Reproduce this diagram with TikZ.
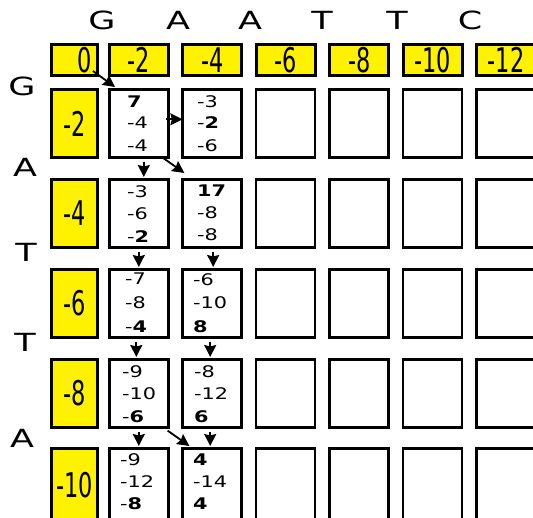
\documentclass[tikz,border=0pt]{standalone}
\usepackage{fontspec}
\setmainfont{DejaVu Sans}
\usetikzlibrary{calc,arrows.meta}
\newcommand{\hdr}[1]{\scalebox{0.66}[1]{\fontsize{34}{40}\selectfont #1}}
\newcommand{\sq}[1]{\scalebox{1.4}[1]{\fontsize{25}{28}\selectfont #1}}
\newcommand{\cv}[1]{\scalebox{1.3}[1]{\fontsize{16}{19}\selectfont #1}}
\begin{document}
\begin{tikzpicture}[x=1pt,y=-1pt,
  ybox/.style={draw, line width=3pt, fill=yellow, inner sep=0pt, anchor=north west},
  cellbox/.style={draw, line width=2.6pt, fill=white, inner sep=0pt, anchor=north west, minimum width=59pt},
  valtxt/.style={anchor=base west, inner sep=0pt},
  arr/.style={-{Stealth[length=12pt,width=12pt,inset=1.5pt]}, line width=1.8pt},
  lett/.style={anchor=base, inner sep=0pt}]
\useasboundingbox (0,0) rectangle (533,517);
\clip (0,0) rectangle (533,517);

% sequence letters
\node[lett] (tG)  at (102,29) {\sq{G}};
\node[lett] (tA1) at (178,29) {\sq{A}};
\node[lett] (tA2) at (250,29) {\sq{A}};
\node[lett] (tT1) at (322,29) {\sq{T}};
\node[lett] (tT2) at (397,29) {\sq{T}};
\node[lett] (tC)  at (470,29) {\sq{C}};
\node[lett] (sG)  at (22,95)  {\sq{G}};
\node[lett] (sA1) at (25,176) {\sq{A}};
\node[lett] (sT1) at (26,261) {\sq{T}};
\node[lett] (sT2) at (25,351) {\sq{T}};
\node[lett] (sA2) at (22,447) {\sq{A}};

% header row
\node[ybox, minimum width=46pt, minimum height=31pt] (h0) at (50,43) {\hspace{20pt}\hdr{0}};
\foreach \c/\l/\v in {1/108/-2,2/181.4/-4,3/254.8/-6,4/328.2/-8,5/401.6/-10,6/475/-12}
  \node[ybox, minimum width=59pt, minimum height=31pt] (h\c) at (\l,43) {\hdr{\v}};

% left column and cells
\foreach \r/\t/\h/\v in {1/88/68/-2,2/178/68/-4,3/268/68/-6,4/358/68/-8,5/447/74/-10}{
  \node[ybox, minimum width=46pt, minimum height=\h pt] (l\r) at (50,\t) {\hdr{\v}};
  \foreach \c/\l in {1/108,2/181.4,3/254.8,4/328.2,5/401.6,6/475}
    \node[cellbox, minimum height=\h pt] (c\r\c) at (\l,\t) {};
}

% cell values
\node[valtxt] (v111) at (127,107.5) {\cv{\textbf{7}}};
\node[valtxt] (v112) at (127,128.5) {\cv{-4}};
\node[valtxt] (v113) at (127,151)   {\cv{-4}};
\node[valtxt] (v121) at (197,107.5) {\cv{-3}};
\node[valtxt] (v122) at (197,128.5) {\cv{-\textbf{2}}};
\node[valtxt] (v123) at (197,151)   {\cv{-6}};

\node[valtxt] (v211) at (127,197.5) {\cv{-3}};
\node[valtxt] (v212) at (127,219.5) {\cv{-6}};
\node[valtxt] (v213) at (127,242)   {\cv{-\textbf{2}}};
\node[valtxt] (v221) at (197,196.5) {\cv{\textbf{17}}};
\node[valtxt] (v222) at (197,218.5) {\cv{-8}};
\node[valtxt] (v223) at (197,240.5) {\cv{-8}};

\node[valtxt] (v311) at (125,284) {\cv{-7}};
\node[valtxt] (v312) at (125,308) {\cv{-8}};
\node[valtxt] (v313) at (125,332) {\cv{-\textbf{4}}};
\node[valtxt] (v321) at (193,285) {\cv{-6}};
\node[valtxt] (v322) at (193,308) {\cv{-10}};
\node[valtxt] (v323) at (193,332) {\cv{\textbf{8}}};

\node[valtxt] (v411) at (122,377.5) {\cv{-9}};
\node[valtxt] (v412) at (122,399.5) {\cv{-10}};
\node[valtxt] (v413) at (122,422.5) {\cv{-\textbf{6}}};
\node[valtxt] (v421) at (194,377)   {\cv{-8}};
\node[valtxt] (v422) at (194,399)   {\cv{-12}};
\node[valtxt] (v423) at (194,422)   {\cv{\textbf{6}}};

\node[valtxt] (v511) at (120,465.5) {\cv{-9}};
\node[valtxt] (v512) at (120,487.5) {\cv{-12}};
\node[valtxt] (v513) at (120,509.5) {\cv{-\textbf{8}}};
\node[valtxt] (v521) at (193,465.5) {\cv{\textbf{4}}};
\node[valtxt] (v522) at (193,487)   {\cv{-14}};
\node[valtxt] (v523) at (193,509)   {\cv{\textbf{4}}};

% arrows
\draw[arr] ($(h0.south east)+(-6,-6)$) -- ($(c11.north west)+(7,-1)$);
\draw[arr] ($(c11.east)+(-4,-4)$) -- ($(c12.west)+(1,-4)$);
\draw[arr] ($(c11.south)+(5,3)$) -- ($(c21.north)+(5,-1)$);
\draw[arr] ($(c11.south east)+(-7,-1)$) -- ($(c22.north west)+(3,-5)$);
\draw[arr] ($(c21.south)+(0,3)$) -- ($(c31.north)+(0,-1)$);
\draw[arr] ($(c22.south)+(1,3)$) -- ($(c32.north)+(1,-1)$);
\draw[arr] ($(c31.south)+(-2.5,3)$) -- ($(c41.north)+(-2.5,-1)$);
\draw[arr] ($(c32.south)+(-2,3)$) -- ($(c42.north)+(-2,-1)$);
\draw[arr] ($(c41.south)+(0,3)$) -- ($(c51.north)+(0,-1)$);
\draw[arr] ($(c42.south)+(-2,3)$) -- ($(c52.north)+(-2,-1)$);
\draw[arr] ($(c41.south east)+(-2,2)$) -- ($(c52.north west)+(8,-1)$);
\end{tikzpicture}
\end{document}
